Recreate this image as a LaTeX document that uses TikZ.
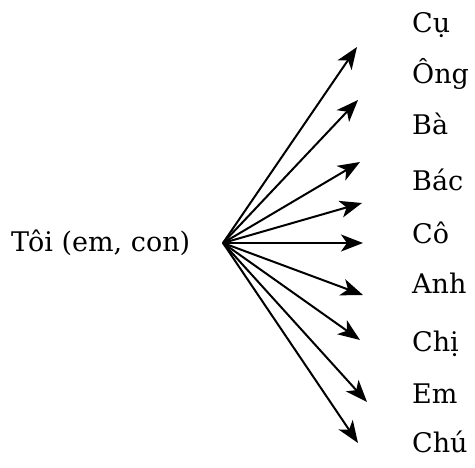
\documentclass[tikz,border=0pt]{standalone}
\usepackage{fontspec}
\setmainfont{DejaVu Serif}
\usetikzlibrary{arrows.meta}

\tikzset{
  kin/.style={anchor=base west, inner sep=0pt, font=\fontsize{27}{32}\selectfont},
  kinarrow/.style={-{Stealth[length=22pt,width=17pt,inset=6pt]}, line width=2pt},
}

\begin{document}
\begin{tikzpicture}[x=1pt,y=-1pt]
  \useasboundingbox (0,0) rectangle (475,468);
  % Source
  \node[kin] (toi) at (11,252) {Tôi (em, con)};
  \coordinate (hub) at (223,243);
  % Labels
  \node[kin] (cu)   at (412,33)  {Cụ};
  \node[kin] (ong)  at (412,84)  {Ông};
  \node[kin] (ba)   at (412,135) {Bà};
  \node[kin] (bac)  at (412,191) {Bác};
  \node[kin] (co)   at (412,244) {Cô};
  \node[kin] (anh)  at (412,294) {Anh};
  \node[kin] (chi)  at (412,352) {Chị};
  \node[kin] (em)   at (412,404) {Em};
  \node[kin] (chu)  at (412,453) {Chú};
  % Arrow tips
  \coordinate (tcu)  at (357,47);
  \coordinate (tong) at (358,100);
  \coordinate (tba)  at (360,162);
  \coordinate (tbac) at (362,203);
  \coordinate (tco)  at (363,243);
  \coordinate (tanh) at (363,295);
  \coordinate (tchi) at (360,340);
  \coordinate (tem)  at (367,402);
  \coordinate (tchu) at (358,443);
  % Arrows
  \draw[kinarrow] (hub) -- (tcu);
  \draw[kinarrow] (hub) -- (tong);
  \draw[kinarrow] (hub) -- (tba);
  \draw[kinarrow] (hub) -- (tbac);
  \draw[kinarrow] (hub) -- (tco);
  \draw[kinarrow] (hub) -- (tanh);
  \draw[kinarrow] (hub) -- (tchi);
  \draw[kinarrow] (hub) -- (tem);
  \draw[kinarrow] (hub) -- (tchu);
\end{tikzpicture}
\end{document}
